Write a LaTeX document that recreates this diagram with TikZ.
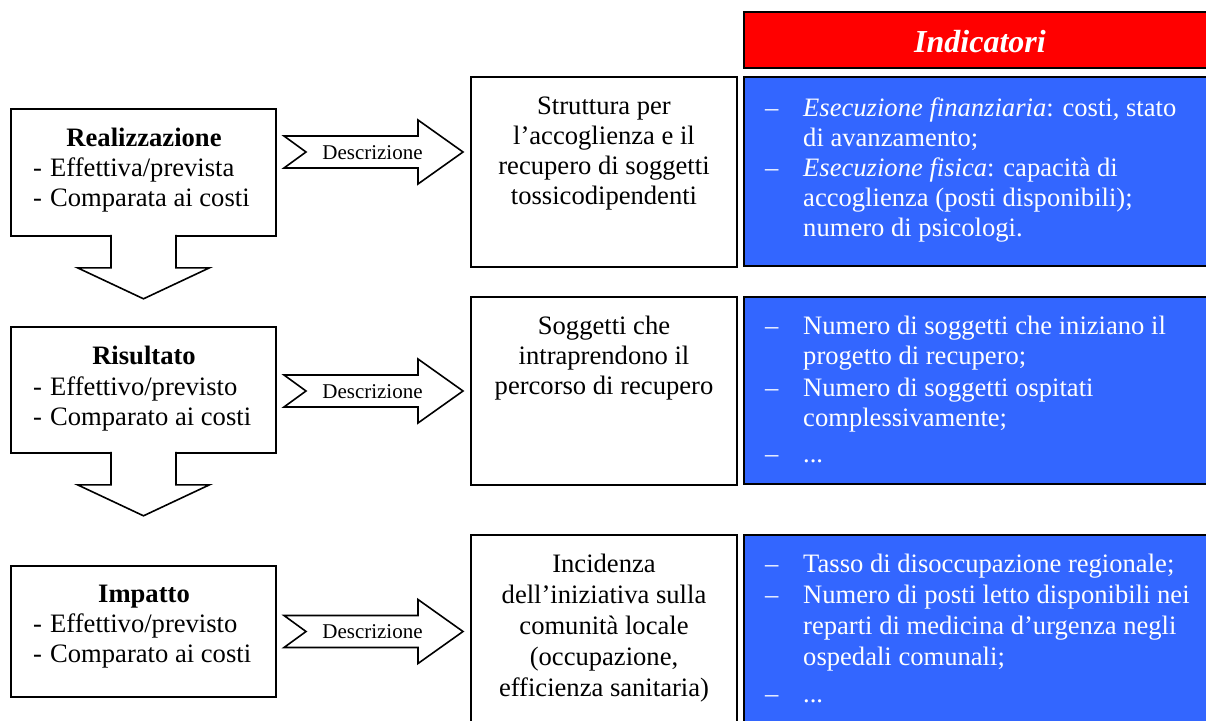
\documentclass[tikz,border=0pt]{standalone}
\usepackage{fontspec}
\setmainfont{Liberation Serif}
\usetikzlibrary{calc}
\definecolor{indblue}{RGB}{51,102,255}
\definecolor{indred}{RGB}{255,0,0}
\begin{document}
\begin{tikzpicture}[x=1pt,y=-1pt,
  box/.style={draw=black, line width=1.6pt, fill=white, inner sep=0pt},
  bluebox/.style={draw=black, line width=1.8pt, fill=indblue, inner sep=0pt},
  redbox/.style={draw=black, line width=1.6pt, fill=indred, inner sep=0pt},
  txt/.style={inner sep=0pt, font=\fontsize{26.6}{30}\selectfont},
  wtxt/.style={txt, text=white},
  desc/.style={inner sep=0pt, font=\fontsize{21}{24}\selectfont},
  arrowline/.style={draw=black, line width=1.6pt, fill=white, line join=miter},
  downarrow/.pic={\filldraw[arrowline] (-32.5,-2) -- (-32.5,31) -- (-66,31) -- (0,62) -- (66,31) -- (32.5,31) -- (32.5,-2);},
  rightarrow/.pic={\filldraw[arrowline] (-89.5,-16) -- (44.5,-16) -- (44.5,-32) -- (89.5,0) -- (44.5,32) -- (44.5,16) -- (-89.5,16) -- (-67.5,0) -- cycle;}
]
\useasboundingbox (0,0) rectangle (1206,720);
\clip (0,0) rectangle (1206,720);

% left boxes
\node[box, minimum width=265pt, minimum height=127pt] (L1) at (143.5,172.5) {};
\node[box, minimum width=265pt, minimum height=126pt] (L2) at (143.5,390) {};
\node[box, minimum width=265pt, minimum height=131pt] (L3) at (143.5,631.5) {};

% middle boxes
\node[box, minimum width=266pt, minimum height=190pt] (M1) at (604,172) {};
\node[box, minimum width=266pt, minimum height=188pt] (M2) at (604,391) {};
\node[box, minimum width=266pt, minimum height=195pt] (M3) at (604,632.5) {};

% indicator boxes
\node[redbox, minimum width=472pt, minimum height=56pt] (R) at (980,40) {};
\node[bluebox, minimum width=472pt, minimum height=189pt] (B1) at (980,171.5) {};
\node[bluebox, minimum width=472pt, minimum height=187pt] (B2) at (980,390.5) {};
\node[bluebox, minimum width=472pt, minimum height=195pt] (B3) at (980,632.5) {};

% down arrows
\pic at (L1.south) {downarrow};
\pic at (L2.south) {downarrow};

% right arrows
\coordinate (A1) at ($(L1.east)!0.5!(M1.west)$);
\coordinate (A2) at ($(L2.east)!0.5!(M2.west)$);
\coordinate (A3) at ($(L3.east)!0.5!(M3.west)$);
\pic at (A1 |- 0,152) {rightarrow};
\pic at (A2 |- 0,391) {rightarrow};
\pic at (A3 |- 0,631.5) {rightarrow};
\node[desc, anchor=base] (D1) at (372.5,159) {Descrizione};
\node[desc, anchor=base] (D2) at (372.5,398) {Descrizione};
\node[desc, anchor=base] (D3) at (372.5,638.5) {Descrizione};

% left texts
\node[txt, anchor=base] (L1t) at (144,146) {\textbf{Realizzazione}};
\node[txt, anchor=base west] (L1l) at (33,176) {\begin{tabular}[t]{@{}l@{}}\makebox[17pt][l]{-}Effettiva/prevista\\\makebox[17pt][l]{-}Comparata ai costi\end{tabular}};
\node[txt, anchor=base] (L2t) at (144,364) {\textbf{Risultato}};
\node[txt, anchor=base west] (L2l) at (33,395) {\begin{tabular}[t]{@{}l@{}}\makebox[17pt][l]{-}Effettivo/previsto\\\makebox[17pt][l]{-}Comparato ai costi\end{tabular}};
\node[txt, anchor=base] (L3t) at (144,602) {\textbf{Impatto}};
\node[txt, anchor=base west] (L3l) at (33,632) {\begin{tabular}[t]{@{}l@{}}\makebox[17pt][l]{-}Effettivo/previsto\\\makebox[17pt][l]{-}Comparato ai costi\end{tabular}};

% middle texts
\node[txt, anchor=base] (M1t) at (604,114) {\begin{tabular}[t]{@{}c@{}}Struttura per\\l’accoglienza e il\\recupero di soggetti\\tossicodipendenti\end{tabular}};
\node[txt, anchor=base] (M2t) at (604,334) {\begin{tabular}[t]{@{}c@{}}Soggetti che\\intraprendono il\\percorso di recupero\end{tabular}};
\node[txt, anchor=base, font=\fontsize{26.6}{31}\selectfont] (M3t) at (604,572) {\begin{tabular}[t]{@{}c@{}}Incidenza\\dell’iniziativa sulla\\comunità locale\\(occupazione,\\efficienza sanitaria)\end{tabular}};

% indicator texts
\node[inner sep=0pt, text=white, anchor=base, font=\fontsize{32}{36}\selectfont\bfseries\itshape] (Rt) at (980,52) {Indicatori};
\node[wtxt, anchor=base west] (B1t) at (765,116) {\begin{tabular}[t]{@{}p{38pt}@{}l@{}}–&\textit{Esecuzione finanziaria}: costi, stato\\&di avanzamento;\\–&\textit{Esecuzione fisica}: capacità di\\&accoglienza (posti disponibili);\\&numero di psicologi.\end{tabular}};
\node[wtxt, anchor=base west] (B2t) at (765,334) {\begin{tabular}[t]{@{}p{38pt}@{}l@{}}–&Numero di soggetti che iniziano il\\&progetto di recupero;\\[2pt]–&Numero di soggetti ospitati\\&complessivamente;\\[6pt]–&...\end{tabular}};
\node[wtxt, anchor=base west, font=\fontsize{26.6}{31}\selectfont] (B3t) at (765,572) {\begin{tabular}[t]{@{}p{38pt}@{}l@{}}–&Tasso di disoccupazione regionale;\\–&Numero di posti letto disponibili nei\\&reparti di medicina d’urgenza negli\\&ospedali comunali;\\[6pt]–&...\end{tabular}};
\end{tikzpicture}
\end{document}
